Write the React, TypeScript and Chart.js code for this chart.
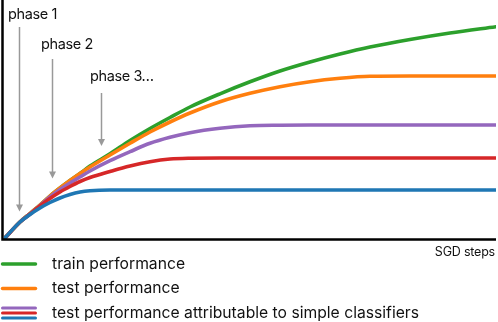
import React, { useEffect, useRef } from "react";
import { Chart, registerables } from "chart.js";

Chart.register(...registerables);

// SGD steps (arbitrary units)
const steps = [0, 16, 26, 36, 46, 56, 66, 76, 86, 106, 126, 146, 166, 186, 216, 246, 276, 306, 336, 366, 406, 446, 492];
// performance (arbitrary units)
const trainPerf = [0, 17, 25.5, 34, 43, 51, 58.5, 65.5, 73, 85.2, 98.5, 110.5, 121.5, 132, 145.2, 157.2, 168, 177, 185, 192, 199.5, 206, 212.3];
const testPerf = [0, 17, 25.5, 34, 43, 51, 58.5, 65.5, 72, 84, 95.7, 107, 117, 126, 137.3, 145.7, 152.3, 157.3, 160.7, 162.7, 163, 163, 163];
const simplePhase3 = [0, 17, 25, 33.5, 42, 49.5, 56, 62, 68, 78.3, 87.3, 95.7, 101.7, 106.3, 110.7, 113.2, 113.8, 114, 114, 114, 114, 114, 114];
const simplePhase2 = [0, 17, 25, 33, 40.5, 47, 52.5, 57.5, 61.5, 67.5, 73, 77.3, 80, 80.8, 81, 81, 81, 81, 81, 81, 81, 81, 81];
const simplePhase1 = [0, 17, 24.5, 31, 36.5, 41, 44.5, 47, 48.3, 49, 49, 49, 49, 49, 49, 49, 49, 49, 49, 49, 49, 49, 49];

// phase annotations: label, step, arrow top, arrow tip, label baseline
const phaseLabels = ["phase 1", "phase 2", "phase 3\u2026"];
const phaseSteps = [15, 48, 97];
const phaseArrowTop = [212, 180, 146];
const phaseArrowTip = [27.5, 60.5, 93];
const phaseLabelY = [220, 190, 158];

const legendLabels = [
  "train performance",
  "test performance",
  "test performance attributable to simple classifiers",
];

const GREEN = "#2ca02c";
const ORANGE = "#ff7f0e";
const PURPLE = "#9467bd";
const RED = "#d62728";
const BLUE = "#1f77b4";

const FONT = 'Inter, "Liberation Sans", Arial, sans-serif';

const toPts = (ys: number[]) => steps.map((x, i) => ({ x, y: ys[i] }));

const overlay = {
  id: "overlay",
  afterDraw(chart: any) {
    const ctx = chart.ctx as CanvasRenderingContext2D;
    const xs = chart.scales.x;
    const ys = chart.scales.y;
    const area = chart.chartArea;
    ctx.save();
    // axes
    ctx.strokeStyle = "#000";
    ctx.lineWidth = 2.5;
    ctx.beginPath();
    ctx.moveTo(area.left - 1.5, 0);
    ctx.lineTo(area.left - 1.5, area.bottom + 0.5);
    ctx.lineTo(area.right, area.bottom + 0.5);
    ctx.stroke();

    // phase arrows + labels
    ctx.strokeStyle = "#999";
    ctx.fillStyle = "#999";
    ctx.lineWidth = 1.5;
    phaseSteps.forEach((s, i) => {
      const x = Math.round(xs.getPixelForValue(s)) + 0.5;
      const top = ys.getPixelForValue(phaseArrowTop[i]);
      const tip = ys.getPixelForValue(phaseArrowTip[i]);
      ctx.beginPath();
      ctx.moveTo(x, top);
      ctx.lineTo(x, tip - 5);
      ctx.stroke();
      ctx.beginPath();
      ctx.moveTo(x - 3.5, tip - 7);
      ctx.lineTo(x + 3.5, tip - 7);
      ctx.lineTo(x, tip);
      ctx.closePath();
      ctx.fill();
    });
    ctx.fillStyle = "#111";
    ctx.font = `14.5px ${FONT}`;
    (ctx as any).letterSpacing = "-0.4px";
    ctx.textAlign = "left";
    ctx.textBaseline = "alphabetic";
    phaseLabels.forEach((t, i) => {
      const x = xs.getPixelForValue(phaseSteps[i]) - 11;
      const y = ys.getPixelForValue(phaseLabelY[i]);
      ctx.fillText(t, x, y);
    });

    // x-axis title
    ctx.font = `12.5px ${FONT}`;
    (ctx as any).letterSpacing = "-0.2px";
    ctx.textAlign = "right";
    ctx.fillText("SGD steps", area.right - 1, area.bottom + 17);

    // legend
    const lx0 = 1;
    const lx1 = 37;
    const tx = 52;
    const rowY = [264, 288.5, 313];
    ctx.lineCap = "round";
    ctx.lineWidth = 3.5;
    ctx.strokeStyle = GREEN;
    ctx.beginPath();
    ctx.moveTo(lx0 + 1.5, rowY[0]);
    ctx.lineTo(lx1 - 1.5, rowY[0]);
    ctx.stroke();
    ctx.strokeStyle = ORANGE;
    ctx.beginPath();
    ctx.moveTo(lx0 + 1.5, rowY[1]);
    ctx.lineTo(lx1 - 1.5, rowY[1]);
    ctx.stroke();
    ctx.lineWidth = 3;
    [PURPLE, RED, BLUE].forEach((c, k) => {
      ctx.strokeStyle = c;
      ctx.beginPath();
      ctx.moveTo(lx0 + 1.5, rowY[2] - 5 + k * 5);
      ctx.lineTo(lx1 - 1.5, rowY[2] - 5 + k * 5);
      ctx.stroke();
    });
    ctx.fillStyle = "#111";
    ctx.font = `15.7px ${FONT}`;
    (ctx as any).letterSpacing = "0px";
    ctx.textAlign = "left";
    ctx.textBaseline = "middle";
    legendLabels.forEach((t, i) => {
      ctx.fillText(t, tx, rowY[i]);
    });
    ctx.restore();
  },
};

export default function App() {
  const ref = useRef<HTMLCanvasElement | null>(null);

  useEffect(() => {
    document.body.style.margin = "0";
    const canvas = ref.current;
    if (!canvas) return;
    const mk = (label: string, ys: number[], color: string) => ({
      label,
      data: toPts(ys),
      borderColor: color,
      backgroundColor: color,
      borderWidth: 3.6,
      pointRadius: 0,
      cubicInterpolationMode: "monotone" as const,
      fill: false,
      borderCapStyle: "round" as const,
    });
    const chart = new Chart(canvas, {
      type: "line",
      data: {
        datasets: [
          mk("simple (phase 1)", simplePhase1, BLUE),
          mk("simple (phase 2)", simplePhase2, RED),
          mk("simple (phase 3)", simplePhase3, PURPLE),
          mk("test performance", testPerf, ORANGE),
          mk("train performance", trainPerf, GREEN),
        ],
      },
      options: {
        animation: false,
        responsive: false,
        devicePixelRatio: 1,
        layout: { padding: { left: 4, right: 2, top: 0, bottom: 83 } },
        plugins: { legend: { display: false }, tooltip: { enabled: false } },
        scales: {
          x: { type: "linear", min: 0, max: 492, display: false },
          y: { type: "linear", min: 0, max: 239, display: false },
        },
      },
      plugins: [overlay],
    });
    return () => chart.destroy();
  }, []);

  return (
    <div style={{ width: 498, height: 322, background: "#fff" }}>
      <canvas ref={ref} width={498} height={322} style={{ display: "block" }} />
    </div>
  );
}
